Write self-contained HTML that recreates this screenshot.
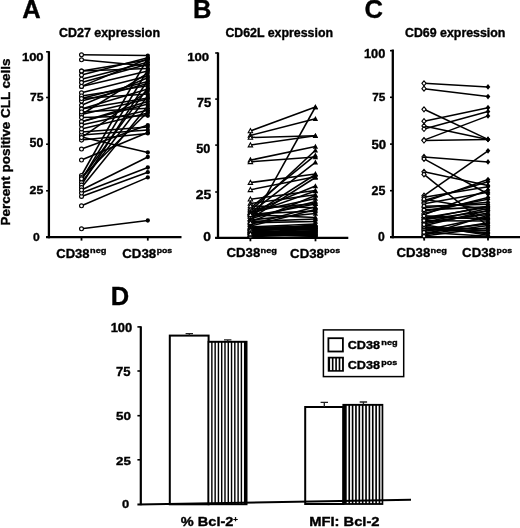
<!DOCTYPE html><html><head><meta charset="utf-8"><style>html,body{margin:0;padding:0;background:#fff;overflow:hidden}svg{display:block;will-change:transform}text{stroke:#000;stroke-width:0.35px}</style></head><body>
<svg width="520" height="528" viewBox="0 0 520 528" font-family='"Liberation Sans", sans-serif' fill="#000" stroke="none">
<rect width="520" height="528" fill="#fff"/>
<text x="22.2" y="17.6" font-size="25.5" font-weight="bold">A</text>
<text x="193.0" y="17.8" font-size="25.5" font-weight="bold">B</text>
<text x="364.4" y="17.6" font-size="25.5" font-weight="bold">C</text>
<text x="110.8" y="305.4" font-size="25.5" font-weight="bold">D</text>
<text x="59.0" y="37.1" font-size="12.0" font-weight="bold" textLength="101" lengthAdjust="spacingAndGlyphs">CD27 expression</text>
<text x="225.4" y="37.1" font-size="12.0" font-weight="bold" textLength="107.6" lengthAdjust="spacingAndGlyphs">CD62L expression</text>
<text x="405.0" y="37.1" font-size="12.0" font-weight="bold" textLength="100.4" lengthAdjust="spacingAndGlyphs">CD69 expression</text>
<text transform="translate(10.2,225.5) rotate(-90)" font-size="13.3" font-weight="bold" textLength="167" lengthAdjust="spacingAndGlyphs">Percent positive CLL cells</text>
<g stroke="#000">
<path d="M48.90 51.20 V238.30" stroke-width="2.3" fill="none"/>
<path d="M46.10 237.20 H181.50" stroke-width="2.3" fill="none"/>
<path d="M46.10 51.80 H48.90" stroke-width="1.6" fill="none"/>
<path d="M46.10 97.50 H48.90" stroke-width="1.6" fill="none"/>
<path d="M46.10 144.20 H48.90" stroke-width="1.6" fill="none"/>
<path d="M46.10 190.80 H48.90" stroke-width="1.6" fill="none"/>
<path d="M46.10 237.20 H48.90" stroke-width="1.6" fill="none"/>
<path d="M81.50 237.20 V240.60" stroke-width="1.8" fill="none"/>
<path d="M147.80 237.20 V240.60" stroke-width="1.8" fill="none"/>
<path d="M218.00 52.40 V239.00" stroke-width="2.3" fill="none"/>
<path d="M215.20 237.90 H348.30" stroke-width="2.3" fill="none"/>
<path d="M215.20 53.00 H218.00" stroke-width="1.6" fill="none"/>
<path d="M215.20 99.10 H218.00" stroke-width="1.6" fill="none"/>
<path d="M215.20 145.10 H218.00" stroke-width="1.6" fill="none"/>
<path d="M215.20 192.00 H218.00" stroke-width="1.6" fill="none"/>
<path d="M215.20 237.90 H218.00" stroke-width="1.6" fill="none"/>
<path d="M250.40 237.90 V241.30" stroke-width="1.8" fill="none"/>
<path d="M315.50 237.90 V241.30" stroke-width="1.8" fill="none"/>
<path d="M392.80 49.50 V238.30" stroke-width="2.3" fill="none"/>
<path d="M390.00 237.20 H520.00" stroke-width="2.3" fill="none"/>
<path d="M390.00 50.70 H392.80" stroke-width="1.6" fill="none"/>
<path d="M390.00 97.30 H392.80" stroke-width="1.6" fill="none"/>
<path d="M390.00 144.10 H392.80" stroke-width="1.6" fill="none"/>
<path d="M390.00 190.70 H392.80" stroke-width="1.6" fill="none"/>
<path d="M390.00 237.20 H392.80" stroke-width="1.6" fill="none"/>
<path d="M424.20 237.20 V240.60" stroke-width="1.8" fill="none"/>
<path d="M488.00 237.20 V240.60" stroke-width="1.8" fill="none"/>
</g>
<text x="21.92" y="60.59" font-size="11.41" font-weight="bold" textLength="21.68" lengthAdjust="spacingAndGlyphs">100</text>
<text x="29.91" y="101.48" font-size="11.57" font-weight="bold" textLength="13.58" lengthAdjust="spacingAndGlyphs">75</text>
<text x="29.63" y="147.38" font-size="12.39" font-weight="bold" textLength="13.80" lengthAdjust="spacingAndGlyphs">50</text>
<text x="29.63" y="194.18" font-size="11.55" font-weight="bold" textLength="13.67" lengthAdjust="spacingAndGlyphs">25</text>
<text x="33.01" y="241.18" font-size="11.83" font-weight="bold" textLength="6.75" lengthAdjust="spacingAndGlyphs">0</text>
<text x="187.21" y="60.59" font-size="11.41" font-weight="bold" textLength="22.00" lengthAdjust="spacingAndGlyphs">100</text>
<text x="196.68" y="107.28" font-size="12.43" font-weight="bold" textLength="14.55" lengthAdjust="spacingAndGlyphs">75</text>
<text x="196.22" y="153.28" font-size="12.25" font-weight="bold" textLength="14.12" lengthAdjust="spacingAndGlyphs">50</text>
<text x="195.68" y="199.07" font-size="12.54" font-weight="bold" textLength="15.57" lengthAdjust="spacingAndGlyphs">25</text>
<text x="203.25" y="241.48" font-size="12.25" font-weight="bold" textLength="7.69" lengthAdjust="spacingAndGlyphs">0</text>
<text x="363.93" y="57.78" font-size="12.25" font-weight="bold" textLength="21.36" lengthAdjust="spacingAndGlyphs">100</text>
<text x="372.23" y="101.48" font-size="11.57" font-weight="bold" textLength="13.16" lengthAdjust="spacingAndGlyphs">75</text>
<text x="371.40" y="148.98" font-size="12.25" font-weight="bold" textLength="14.65" lengthAdjust="spacingAndGlyphs">50</text>
<text x="371.63" y="195.48" font-size="12.11" font-weight="bold" textLength="13.88" lengthAdjust="spacingAndGlyphs">25</text>
<text x="378.01" y="241.18" font-size="12.39" font-weight="bold" textLength="6.75" lengthAdjust="spacingAndGlyphs">0</text>
<text x="110.67" y="331.68" font-size="12.11" font-weight="bold" textLength="21.63" lengthAdjust="spacingAndGlyphs">100</text>
<text x="116.08" y="376.07" font-size="13.00" font-weight="bold" textLength="14.55" lengthAdjust="spacingAndGlyphs">75</text>
<text x="116.10" y="420.38" font-size="11.69" font-weight="bold" textLength="14.97" lengthAdjust="spacingAndGlyphs">50</text>
<text x="116.10" y="464.88" font-size="11.69" font-weight="bold" textLength="14.83" lengthAdjust="spacingAndGlyphs">25</text>
<text x="122.08" y="508.38" font-size="11.69" font-weight="bold" textLength="7.22" lengthAdjust="spacingAndGlyphs">0</text>
<g stroke="#000" fill="none">
<line x1="81.50" y1="54.80" x2="147.80" y2="55.60" stroke-width="1.55"/>
<line x1="81.50" y1="59.80" x2="147.80" y2="66.00" stroke-width="1.55"/>
<line x1="81.50" y1="228.80" x2="147.80" y2="220.50" stroke-width="1.55"/>
<line x1="81.50" y1="205.80" x2="147.80" y2="177.40" stroke-width="1.55"/>
<line x1="81.50" y1="196.40" x2="147.80" y2="172.20" stroke-width="1.55"/>
<line x1="81.50" y1="193.00" x2="147.80" y2="167.50" stroke-width="1.55"/>
<line x1="81.50" y1="137.00" x2="147.80" y2="152.50" stroke-width="1.55"/>
<line x1="81.50" y1="149.00" x2="147.80" y2="125.10" stroke-width="1.55"/>
<line x1="81.50" y1="160.00" x2="147.80" y2="132.50" stroke-width="1.55"/>
<line x1="81.50" y1="135.10" x2="147.80" y2="130.00" stroke-width="1.55"/>
<line x1="81.50" y1="140.10" x2="147.80" y2="133.40" stroke-width="1.55"/>
<line x1="81.50" y1="132.00" x2="147.80" y2="127.00" stroke-width="1.55"/>
<line x1="81.50" y1="175.50" x2="147.80" y2="58.00" stroke-width="1.55"/>
<line x1="81.50" y1="177.50" x2="147.80" y2="112.00" stroke-width="1.55"/>
<line x1="81.50" y1="180.00" x2="147.80" y2="70.00" stroke-width="1.55"/>
<line x1="81.50" y1="182.50" x2="147.80" y2="96.00" stroke-width="1.55"/>
<line x1="81.50" y1="185.00" x2="147.80" y2="80.00" stroke-width="1.55"/>
<line x1="81.50" y1="187.50" x2="147.80" y2="106.00" stroke-width="1.55"/>
<line x1="81.50" y1="190.00" x2="147.80" y2="157.00" stroke-width="1.55"/>
<line x1="81.50" y1="178.80" x2="147.80" y2="88.00" stroke-width="1.55"/>
<line x1="81.50" y1="71.10" x2="147.80" y2="60.00" stroke-width="1.55"/>
<line x1="81.50" y1="71.10" x2="147.80" y2="68.50" stroke-width="1.55"/>
<line x1="81.50" y1="75.10" x2="147.80" y2="57.80" stroke-width="1.55"/>
<line x1="81.50" y1="79.20" x2="147.80" y2="62.20" stroke-width="1.55"/>
<line x1="81.50" y1="82.60" x2="147.80" y2="64.30" stroke-width="1.55"/>
<line x1="81.50" y1="86.40" x2="147.80" y2="71.00" stroke-width="1.55"/>
<line x1="81.50" y1="86.40" x2="147.80" y2="58.80" stroke-width="1.55"/>
<line x1="81.50" y1="114.50" x2="147.80" y2="73.06" stroke-width="1.55"/>
<line x1="81.50" y1="92.80" x2="147.80" y2="75.93" stroke-width="1.55"/>
<line x1="81.50" y1="105.30" x2="147.80" y2="77.84" stroke-width="1.55"/>
<line x1="81.50" y1="98.50" x2="147.80" y2="81.53" stroke-width="1.55"/>
<line x1="81.50" y1="101.10" x2="147.80" y2="83.48" stroke-width="1.55"/>
<line x1="81.50" y1="95.90" x2="147.80" y2="85.74" stroke-width="1.55"/>
<line x1="81.50" y1="109.00" x2="147.80" y2="89.08" stroke-width="1.55"/>
<line x1="81.50" y1="137.60" x2="147.80" y2="91.01" stroke-width="1.55"/>
<line x1="81.50" y1="98.50" x2="147.80" y2="94.00" stroke-width="1.55"/>
<line x1="81.50" y1="109.00" x2="147.80" y2="97.93" stroke-width="1.55"/>
<line x1="81.50" y1="114.50" x2="147.80" y2="99.02" stroke-width="1.55"/>
<line x1="81.50" y1="121.70" x2="147.80" y2="101.56" stroke-width="1.55"/>
<line x1="81.50" y1="121.70" x2="147.80" y2="103.90" stroke-width="1.55"/>
<line x1="81.50" y1="111.90" x2="147.80" y2="108.19" stroke-width="1.55"/>
<line x1="81.50" y1="125.10" x2="147.80" y2="110.15" stroke-width="1.55"/>
<line x1="81.50" y1="128.90" x2="147.80" y2="113.11" stroke-width="1.55"/>
<line x1="81.50" y1="117.60" x2="147.80" y2="115.74" stroke-width="1.55"/>
</g>
<circle cx="147.80" cy="55.60" r="2.15" fill="#000"/>
<circle cx="147.80" cy="66.00" r="2.15" fill="#000"/>
<circle cx="147.80" cy="220.50" r="2.15" fill="#000"/>
<circle cx="147.80" cy="177.40" r="2.15" fill="#000"/>
<circle cx="147.80" cy="172.20" r="2.15" fill="#000"/>
<circle cx="147.80" cy="167.50" r="2.15" fill="#000"/>
<circle cx="147.80" cy="152.50" r="2.15" fill="#000"/>
<circle cx="147.80" cy="125.10" r="2.15" fill="#000"/>
<circle cx="147.80" cy="132.50" r="2.15" fill="#000"/>
<circle cx="147.80" cy="130.00" r="2.15" fill="#000"/>
<circle cx="147.80" cy="133.40" r="2.15" fill="#000"/>
<circle cx="147.80" cy="127.00" r="2.15" fill="#000"/>
<circle cx="147.80" cy="58.00" r="2.15" fill="#000"/>
<circle cx="147.80" cy="112.00" r="2.15" fill="#000"/>
<circle cx="147.80" cy="70.00" r="2.15" fill="#000"/>
<circle cx="147.80" cy="96.00" r="2.15" fill="#000"/>
<circle cx="147.80" cy="80.00" r="2.15" fill="#000"/>
<circle cx="147.80" cy="106.00" r="2.15" fill="#000"/>
<circle cx="147.80" cy="157.00" r="2.15" fill="#000"/>
<circle cx="147.80" cy="88.00" r="2.15" fill="#000"/>
<circle cx="147.80" cy="60.00" r="2.15" fill="#000"/>
<circle cx="147.80" cy="68.50" r="2.15" fill="#000"/>
<circle cx="147.80" cy="57.80" r="2.15" fill="#000"/>
<circle cx="147.80" cy="62.20" r="2.15" fill="#000"/>
<circle cx="147.80" cy="64.30" r="2.15" fill="#000"/>
<circle cx="147.80" cy="71.00" r="2.15" fill="#000"/>
<circle cx="147.80" cy="58.80" r="2.15" fill="#000"/>
<circle cx="147.80" cy="73.06" r="2.15" fill="#000"/>
<circle cx="147.80" cy="75.93" r="2.15" fill="#000"/>
<circle cx="147.80" cy="77.84" r="2.15" fill="#000"/>
<circle cx="147.80" cy="81.53" r="2.15" fill="#000"/>
<circle cx="147.80" cy="83.48" r="2.15" fill="#000"/>
<circle cx="147.80" cy="85.74" r="2.15" fill="#000"/>
<circle cx="147.80" cy="89.08" r="2.15" fill="#000"/>
<circle cx="147.80" cy="91.01" r="2.15" fill="#000"/>
<circle cx="147.80" cy="94.00" r="2.15" fill="#000"/>
<circle cx="147.80" cy="97.93" r="2.15" fill="#000"/>
<circle cx="147.80" cy="99.02" r="2.15" fill="#000"/>
<circle cx="147.80" cy="101.56" r="2.15" fill="#000"/>
<circle cx="147.80" cy="103.90" r="2.15" fill="#000"/>
<circle cx="147.80" cy="108.19" r="2.15" fill="#000"/>
<circle cx="147.80" cy="110.15" r="2.15" fill="#000"/>
<circle cx="147.80" cy="113.11" r="2.15" fill="#000"/>
<circle cx="147.80" cy="115.74" r="2.15" fill="#000"/>
<circle cx="81.50" cy="54.80" r="1.95" fill="#fff" stroke="#000" stroke-width="1.15"/>
<circle cx="81.50" cy="59.80" r="1.95" fill="#fff" stroke="#000" stroke-width="1.15"/>
<circle cx="81.50" cy="228.80" r="1.95" fill="#fff" stroke="#000" stroke-width="1.15"/>
<circle cx="81.50" cy="205.80" r="1.95" fill="#fff" stroke="#000" stroke-width="1.15"/>
<circle cx="81.50" cy="196.40" r="1.95" fill="#fff" stroke="#000" stroke-width="1.15"/>
<circle cx="81.50" cy="193.00" r="1.95" fill="#fff" stroke="#000" stroke-width="1.15"/>
<circle cx="81.50" cy="137.00" r="1.95" fill="#fff" stroke="#000" stroke-width="1.15"/>
<circle cx="81.50" cy="149.00" r="1.95" fill="#fff" stroke="#000" stroke-width="1.15"/>
<circle cx="81.50" cy="160.00" r="1.95" fill="#fff" stroke="#000" stroke-width="1.15"/>
<circle cx="81.50" cy="135.10" r="1.95" fill="#fff" stroke="#000" stroke-width="1.15"/>
<circle cx="81.50" cy="140.10" r="1.95" fill="#fff" stroke="#000" stroke-width="1.15"/>
<circle cx="81.50" cy="132.00" r="1.95" fill="#fff" stroke="#000" stroke-width="1.15"/>
<circle cx="81.50" cy="175.50" r="1.95" fill="#fff" stroke="#000" stroke-width="1.15"/>
<circle cx="81.50" cy="177.50" r="1.95" fill="#fff" stroke="#000" stroke-width="1.15"/>
<circle cx="81.50" cy="180.00" r="1.95" fill="#fff" stroke="#000" stroke-width="1.15"/>
<circle cx="81.50" cy="182.50" r="1.95" fill="#fff" stroke="#000" stroke-width="1.15"/>
<circle cx="81.50" cy="185.00" r="1.95" fill="#fff" stroke="#000" stroke-width="1.15"/>
<circle cx="81.50" cy="187.50" r="1.95" fill="#fff" stroke="#000" stroke-width="1.15"/>
<circle cx="81.50" cy="190.00" r="1.95" fill="#fff" stroke="#000" stroke-width="1.15"/>
<circle cx="81.50" cy="178.80" r="1.95" fill="#fff" stroke="#000" stroke-width="1.15"/>
<circle cx="81.50" cy="71.10" r="1.95" fill="#fff" stroke="#000" stroke-width="1.15"/>
<circle cx="81.50" cy="71.10" r="1.95" fill="#fff" stroke="#000" stroke-width="1.15"/>
<circle cx="81.50" cy="75.10" r="1.95" fill="#fff" stroke="#000" stroke-width="1.15"/>
<circle cx="81.50" cy="79.20" r="1.95" fill="#fff" stroke="#000" stroke-width="1.15"/>
<circle cx="81.50" cy="82.60" r="1.95" fill="#fff" stroke="#000" stroke-width="1.15"/>
<circle cx="81.50" cy="86.40" r="1.95" fill="#fff" stroke="#000" stroke-width="1.15"/>
<circle cx="81.50" cy="86.40" r="1.95" fill="#fff" stroke="#000" stroke-width="1.15"/>
<circle cx="81.50" cy="114.50" r="1.95" fill="#fff" stroke="#000" stroke-width="1.15"/>
<circle cx="81.50" cy="92.80" r="1.95" fill="#fff" stroke="#000" stroke-width="1.15"/>
<circle cx="81.50" cy="105.30" r="1.95" fill="#fff" stroke="#000" stroke-width="1.15"/>
<circle cx="81.50" cy="98.50" r="1.95" fill="#fff" stroke="#000" stroke-width="1.15"/>
<circle cx="81.50" cy="101.10" r="1.95" fill="#fff" stroke="#000" stroke-width="1.15"/>
<circle cx="81.50" cy="95.90" r="1.95" fill="#fff" stroke="#000" stroke-width="1.15"/>
<circle cx="81.50" cy="109.00" r="1.95" fill="#fff" stroke="#000" stroke-width="1.15"/>
<circle cx="81.50" cy="137.60" r="1.95" fill="#fff" stroke="#000" stroke-width="1.15"/>
<circle cx="81.50" cy="98.50" r="1.95" fill="#fff" stroke="#000" stroke-width="1.15"/>
<circle cx="81.50" cy="109.00" r="1.95" fill="#fff" stroke="#000" stroke-width="1.15"/>
<circle cx="81.50" cy="114.50" r="1.95" fill="#fff" stroke="#000" stroke-width="1.15"/>
<circle cx="81.50" cy="121.70" r="1.95" fill="#fff" stroke="#000" stroke-width="1.15"/>
<circle cx="81.50" cy="121.70" r="1.95" fill="#fff" stroke="#000" stroke-width="1.15"/>
<circle cx="81.50" cy="111.90" r="1.95" fill="#fff" stroke="#000" stroke-width="1.15"/>
<circle cx="81.50" cy="125.10" r="1.95" fill="#fff" stroke="#000" stroke-width="1.15"/>
<circle cx="81.50" cy="128.90" r="1.95" fill="#fff" stroke="#000" stroke-width="1.15"/>
<circle cx="81.50" cy="117.60" r="1.95" fill="#fff" stroke="#000" stroke-width="1.15"/>
<g stroke="#000" fill="none">
<line x1="250.40" y1="130.90" x2="315.40" y2="107.00" stroke-width="1.55"/>
<line x1="250.40" y1="135.50" x2="315.40" y2="118.70" stroke-width="1.55"/>
<line x1="250.40" y1="137.50" x2="315.40" y2="135.70" stroke-width="1.55"/>
<line x1="250.40" y1="145.10" x2="315.40" y2="135.70" stroke-width="1.55"/>
<line x1="250.40" y1="160.10" x2="315.40" y2="146.50" stroke-width="1.55"/>
<line x1="250.40" y1="161.80" x2="315.40" y2="157.00" stroke-width="1.55"/>
<line x1="250.40" y1="224.00" x2="315.40" y2="107.00" stroke-width="1.55"/>
<line x1="250.40" y1="211.00" x2="315.40" y2="150.20" stroke-width="1.55"/>
<line x1="250.40" y1="213.00" x2="315.40" y2="162.40" stroke-width="1.55"/>
<line x1="250.40" y1="208.00" x2="315.40" y2="155.20" stroke-width="1.55"/>
<line x1="250.40" y1="182.60" x2="315.40" y2="173.90" stroke-width="1.55"/>
<line x1="250.40" y1="189.80" x2="315.40" y2="176.80" stroke-width="1.55"/>
<line x1="250.40" y1="199.20" x2="315.40" y2="190.50" stroke-width="1.55"/>
<line x1="250.40" y1="203.50" x2="315.40" y2="194.80" stroke-width="1.55"/>
<line x1="250.40" y1="209.30" x2="315.40" y2="203.50" stroke-width="1.55"/>
<line x1="250.40" y1="206.00" x2="315.40" y2="207.80" stroke-width="1.55"/>
<line x1="250.40" y1="216.00" x2="315.40" y2="174.50" stroke-width="1.55"/>
<line x1="250.40" y1="219.00" x2="315.40" y2="177.50" stroke-width="1.55"/>
<line x1="250.40" y1="214.00" x2="315.40" y2="191.00" stroke-width="1.55"/>
<line x1="250.40" y1="222.00" x2="315.40" y2="195.50" stroke-width="1.55"/>
<line x1="250.40" y1="212.50" x2="315.40" y2="186.00" stroke-width="1.55"/>
<line x1="250.40" y1="212.43" x2="315.40" y2="198.60" stroke-width="1.55"/>
<line x1="250.40" y1="218.54" x2="315.40" y2="201.62" stroke-width="1.55"/>
<line x1="250.40" y1="216.28" x2="315.40" y2="203.91" stroke-width="1.55"/>
<line x1="250.40" y1="224.54" x2="315.40" y2="206.83" stroke-width="1.55"/>
<line x1="250.40" y1="226.10" x2="315.40" y2="209.41" stroke-width="1.55"/>
<line x1="250.40" y1="213.97" x2="315.40" y2="211.11" stroke-width="1.55"/>
<line x1="250.40" y1="220.00" x2="315.40" y2="213.59" stroke-width="1.55"/>
<line x1="250.40" y1="214.70" x2="315.40" y2="217.41" stroke-width="1.55"/>
<line x1="250.40" y1="221.49" x2="315.40" y2="219.08" stroke-width="1.55"/>
<line x1="250.40" y1="222.71" x2="315.40" y2="221.59" stroke-width="1.55"/>
<line x1="250.40" y1="226.93" x2="315.40" y2="224.04" stroke-width="1.55"/>
<line x1="250.40" y1="231.00" x2="315.40" y2="224.68" stroke-width="1.55"/>
<line x1="250.40" y1="231.53" x2="315.40" y2="225.30" stroke-width="1.55"/>
<line x1="250.40" y1="228.26" x2="315.40" y2="225.94" stroke-width="1.55"/>
<line x1="250.40" y1="227.88" x2="315.40" y2="226.47" stroke-width="1.55"/>
<line x1="250.40" y1="227.34" x2="315.40" y2="227.13" stroke-width="1.55"/>
<line x1="250.40" y1="230.69" x2="315.40" y2="227.40" stroke-width="1.55"/>
<line x1="250.40" y1="229.83" x2="315.40" y2="228.15" stroke-width="1.55"/>
<line x1="250.40" y1="229.24" x2="315.40" y2="228.92" stroke-width="1.55"/>
<line x1="250.40" y1="231.92" x2="315.40" y2="229.41" stroke-width="1.55"/>
<line x1="250.40" y1="228.69" x2="315.40" y2="230.10" stroke-width="1.55"/>
<line x1="250.40" y1="236.00" x2="315.40" y2="230.41" stroke-width="1.55"/>
<line x1="250.40" y1="232.34" x2="315.40" y2="231.13" stroke-width="1.55"/>
<line x1="250.40" y1="232.77" x2="315.40" y2="231.65" stroke-width="1.55"/>
<line x1="250.40" y1="234.77" x2="315.40" y2="232.35" stroke-width="1.55"/>
<line x1="250.40" y1="230.25" x2="315.40" y2="232.95" stroke-width="1.55"/>
<line x1="250.40" y1="233.26" x2="315.40" y2="233.35" stroke-width="1.55"/>
<line x1="250.40" y1="235.51" x2="315.40" y2="234.02" stroke-width="1.55"/>
<line x1="250.40" y1="236.53" x2="315.40" y2="234.64" stroke-width="1.55"/>
<line x1="250.40" y1="235.22" x2="315.40" y2="235.46" stroke-width="1.55"/>
<line x1="250.40" y1="234.33" x2="315.40" y2="236.00" stroke-width="1.55"/>
<line x1="250.40" y1="233.90" x2="315.40" y2="236.38" stroke-width="1.55"/>
</g>
<path d="M315.40 104.20 L318.10 109.20 L312.70 109.20Z" fill="#000"/>
<path d="M315.40 115.90 L318.10 120.90 L312.70 120.90Z" fill="#000"/>
<path d="M315.40 132.90 L318.10 137.90 L312.70 137.90Z" fill="#000"/>
<path d="M315.40 132.90 L318.10 137.90 L312.70 137.90Z" fill="#000"/>
<path d="M315.40 143.70 L318.10 148.70 L312.70 148.70Z" fill="#000"/>
<path d="M315.40 154.20 L318.10 159.20 L312.70 159.20Z" fill="#000"/>
<path d="M315.40 104.20 L318.10 109.20 L312.70 109.20Z" fill="#000"/>
<path d="M315.40 147.40 L318.10 152.40 L312.70 152.40Z" fill="#000"/>
<path d="M315.40 159.60 L318.10 164.60 L312.70 164.60Z" fill="#000"/>
<path d="M315.40 152.40 L318.10 157.40 L312.70 157.40Z" fill="#000"/>
<path d="M315.40 171.10 L318.10 176.10 L312.70 176.10Z" fill="#000"/>
<path d="M315.40 174.00 L318.10 179.00 L312.70 179.00Z" fill="#000"/>
<path d="M315.40 187.70 L318.10 192.70 L312.70 192.70Z" fill="#000"/>
<path d="M315.40 192.00 L318.10 197.00 L312.70 197.00Z" fill="#000"/>
<path d="M315.40 200.70 L318.10 205.70 L312.70 205.70Z" fill="#000"/>
<path d="M315.40 205.00 L318.10 210.00 L312.70 210.00Z" fill="#000"/>
<path d="M315.40 171.70 L318.10 176.70 L312.70 176.70Z" fill="#000"/>
<path d="M315.40 174.70 L318.10 179.70 L312.70 179.70Z" fill="#000"/>
<path d="M315.40 188.20 L318.10 193.20 L312.70 193.20Z" fill="#000"/>
<path d="M315.40 192.70 L318.10 197.70 L312.70 197.70Z" fill="#000"/>
<path d="M315.40 183.20 L318.10 188.20 L312.70 188.20Z" fill="#000"/>
<path d="M315.40 195.80 L318.10 200.80 L312.70 200.80Z" fill="#000"/>
<path d="M315.40 198.82 L318.10 203.82 L312.70 203.82Z" fill="#000"/>
<path d="M315.40 201.11 L318.10 206.11 L312.70 206.11Z" fill="#000"/>
<path d="M315.40 204.03 L318.10 209.03 L312.70 209.03Z" fill="#000"/>
<path d="M315.40 206.61 L318.10 211.61 L312.70 211.61Z" fill="#000"/>
<path d="M315.40 208.31 L318.10 213.31 L312.70 213.31Z" fill="#000"/>
<path d="M315.40 210.79 L318.10 215.79 L312.70 215.79Z" fill="#000"/>
<path d="M315.40 214.61 L318.10 219.61 L312.70 219.61Z" fill="#000"/>
<path d="M315.40 216.28 L318.10 221.28 L312.70 221.28Z" fill="#000"/>
<path d="M315.40 218.79 L318.10 223.79 L312.70 223.79Z" fill="#000"/>
<path d="M315.40 221.24 L318.10 226.24 L312.70 226.24Z" fill="#000"/>
<path d="M315.40 221.88 L318.10 226.88 L312.70 226.88Z" fill="#000"/>
<path d="M315.40 222.50 L318.10 227.50 L312.70 227.50Z" fill="#000"/>
<path d="M315.40 223.14 L318.10 228.14 L312.70 228.14Z" fill="#000"/>
<path d="M315.40 223.67 L318.10 228.67 L312.70 228.67Z" fill="#000"/>
<path d="M315.40 224.33 L318.10 229.33 L312.70 229.33Z" fill="#000"/>
<path d="M315.40 224.60 L318.10 229.60 L312.70 229.60Z" fill="#000"/>
<path d="M315.40 225.35 L318.10 230.35 L312.70 230.35Z" fill="#000"/>
<path d="M315.40 226.12 L318.10 231.12 L312.70 231.12Z" fill="#000"/>
<path d="M315.40 226.61 L318.10 231.61 L312.70 231.61Z" fill="#000"/>
<path d="M315.40 227.30 L318.10 232.30 L312.70 232.30Z" fill="#000"/>
<path d="M315.40 227.61 L318.10 232.61 L312.70 232.61Z" fill="#000"/>
<path d="M315.40 228.33 L318.10 233.33 L312.70 233.33Z" fill="#000"/>
<path d="M315.40 228.85 L318.10 233.85 L312.70 233.85Z" fill="#000"/>
<path d="M315.40 229.55 L318.10 234.55 L312.70 234.55Z" fill="#000"/>
<path d="M315.40 230.15 L318.10 235.15 L312.70 235.15Z" fill="#000"/>
<path d="M315.40 230.55 L318.10 235.55 L312.70 235.55Z" fill="#000"/>
<path d="M315.40 231.22 L318.10 236.22 L312.70 236.22Z" fill="#000"/>
<path d="M315.40 231.84 L318.10 236.84 L312.70 236.84Z" fill="#000"/>
<path d="M315.40 232.66 L318.10 237.66 L312.70 237.66Z" fill="#000"/>
<path d="M315.40 233.20 L318.10 238.20 L312.70 238.20Z" fill="#000"/>
<path d="M315.40 233.58 L318.10 238.58 L312.70 238.58Z" fill="#000"/>
<path d="M250.40 128.60 L252.60 132.70 L248.20 132.70Z" fill="#fff" stroke="#000" stroke-width="1.1"/>
<path d="M250.40 133.20 L252.60 137.30 L248.20 137.30Z" fill="#fff" stroke="#000" stroke-width="1.1"/>
<path d="M250.40 135.20 L252.60 139.30 L248.20 139.30Z" fill="#fff" stroke="#000" stroke-width="1.1"/>
<path d="M250.40 142.80 L252.60 146.90 L248.20 146.90Z" fill="#fff" stroke="#000" stroke-width="1.1"/>
<path d="M250.40 157.80 L252.60 161.90 L248.20 161.90Z" fill="#fff" stroke="#000" stroke-width="1.1"/>
<path d="M250.40 159.50 L252.60 163.60 L248.20 163.60Z" fill="#fff" stroke="#000" stroke-width="1.1"/>
<path d="M250.40 221.70 L252.60 225.80 L248.20 225.80Z" fill="#fff" stroke="#000" stroke-width="1.1"/>
<path d="M250.40 208.70 L252.60 212.80 L248.20 212.80Z" fill="#fff" stroke="#000" stroke-width="1.1"/>
<path d="M250.40 210.70 L252.60 214.80 L248.20 214.80Z" fill="#fff" stroke="#000" stroke-width="1.1"/>
<path d="M250.40 205.70 L252.60 209.80 L248.20 209.80Z" fill="#fff" stroke="#000" stroke-width="1.1"/>
<path d="M250.40 180.30 L252.60 184.40 L248.20 184.40Z" fill="#fff" stroke="#000" stroke-width="1.1"/>
<path d="M250.40 187.50 L252.60 191.60 L248.20 191.60Z" fill="#fff" stroke="#000" stroke-width="1.1"/>
<path d="M250.40 196.90 L252.60 201.00 L248.20 201.00Z" fill="#fff" stroke="#000" stroke-width="1.1"/>
<path d="M250.40 201.20 L252.60 205.30 L248.20 205.30Z" fill="#fff" stroke="#000" stroke-width="1.1"/>
<path d="M250.40 207.00 L252.60 211.10 L248.20 211.10Z" fill="#fff" stroke="#000" stroke-width="1.1"/>
<path d="M250.40 203.70 L252.60 207.80 L248.20 207.80Z" fill="#fff" stroke="#000" stroke-width="1.1"/>
<path d="M250.40 213.70 L252.60 217.80 L248.20 217.80Z" fill="#fff" stroke="#000" stroke-width="1.1"/>
<path d="M250.40 216.70 L252.60 220.80 L248.20 220.80Z" fill="#fff" stroke="#000" stroke-width="1.1"/>
<path d="M250.40 211.70 L252.60 215.80 L248.20 215.80Z" fill="#fff" stroke="#000" stroke-width="1.1"/>
<path d="M250.40 219.70 L252.60 223.80 L248.20 223.80Z" fill="#fff" stroke="#000" stroke-width="1.1"/>
<path d="M250.40 210.20 L252.60 214.30 L248.20 214.30Z" fill="#fff" stroke="#000" stroke-width="1.1"/>
<path d="M250.40 210.13 L252.60 214.23 L248.20 214.23Z" fill="#fff" stroke="#000" stroke-width="1.1"/>
<path d="M250.40 216.24 L252.60 220.34 L248.20 220.34Z" fill="#fff" stroke="#000" stroke-width="1.1"/>
<path d="M250.40 213.98 L252.60 218.08 L248.20 218.08Z" fill="#fff" stroke="#000" stroke-width="1.1"/>
<path d="M250.40 222.24 L252.60 226.34 L248.20 226.34Z" fill="#fff" stroke="#000" stroke-width="1.1"/>
<path d="M250.40 223.80 L252.60 227.90 L248.20 227.90Z" fill="#fff" stroke="#000" stroke-width="1.1"/>
<path d="M250.40 211.67 L252.60 215.77 L248.20 215.77Z" fill="#fff" stroke="#000" stroke-width="1.1"/>
<path d="M250.40 217.70 L252.60 221.80 L248.20 221.80Z" fill="#fff" stroke="#000" stroke-width="1.1"/>
<path d="M250.40 212.40 L252.60 216.50 L248.20 216.50Z" fill="#fff" stroke="#000" stroke-width="1.1"/>
<path d="M250.40 219.19 L252.60 223.29 L248.20 223.29Z" fill="#fff" stroke="#000" stroke-width="1.1"/>
<path d="M250.40 220.41 L252.60 224.51 L248.20 224.51Z" fill="#fff" stroke="#000" stroke-width="1.1"/>
<path d="M250.40 224.63 L252.60 228.73 L248.20 228.73Z" fill="#fff" stroke="#000" stroke-width="1.1"/>
<path d="M250.40 228.70 L252.60 232.80 L248.20 232.80Z" fill="#fff" stroke="#000" stroke-width="1.1"/>
<path d="M250.40 229.23 L252.60 233.33 L248.20 233.33Z" fill="#fff" stroke="#000" stroke-width="1.1"/>
<path d="M250.40 225.96 L252.60 230.06 L248.20 230.06Z" fill="#fff" stroke="#000" stroke-width="1.1"/>
<path d="M250.40 225.58 L252.60 229.68 L248.20 229.68Z" fill="#fff" stroke="#000" stroke-width="1.1"/>
<path d="M250.40 225.04 L252.60 229.14 L248.20 229.14Z" fill="#fff" stroke="#000" stroke-width="1.1"/>
<path d="M250.40 228.39 L252.60 232.49 L248.20 232.49Z" fill="#fff" stroke="#000" stroke-width="1.1"/>
<path d="M250.40 227.53 L252.60 231.63 L248.20 231.63Z" fill="#fff" stroke="#000" stroke-width="1.1"/>
<path d="M250.40 226.94 L252.60 231.04 L248.20 231.04Z" fill="#fff" stroke="#000" stroke-width="1.1"/>
<path d="M250.40 229.62 L252.60 233.72 L248.20 233.72Z" fill="#fff" stroke="#000" stroke-width="1.1"/>
<path d="M250.40 226.39 L252.60 230.49 L248.20 230.49Z" fill="#fff" stroke="#000" stroke-width="1.1"/>
<path d="M250.40 233.70 L252.60 237.80 L248.20 237.80Z" fill="#fff" stroke="#000" stroke-width="1.1"/>
<path d="M250.40 230.04 L252.60 234.14 L248.20 234.14Z" fill="#fff" stroke="#000" stroke-width="1.1"/>
<path d="M250.40 230.47 L252.60 234.57 L248.20 234.57Z" fill="#fff" stroke="#000" stroke-width="1.1"/>
<path d="M250.40 232.47 L252.60 236.57 L248.20 236.57Z" fill="#fff" stroke="#000" stroke-width="1.1"/>
<path d="M250.40 227.95 L252.60 232.05 L248.20 232.05Z" fill="#fff" stroke="#000" stroke-width="1.1"/>
<path d="M250.40 230.96 L252.60 235.06 L248.20 235.06Z" fill="#fff" stroke="#000" stroke-width="1.1"/>
<path d="M250.40 233.21 L252.60 237.31 L248.20 237.31Z" fill="#fff" stroke="#000" stroke-width="1.1"/>
<path d="M250.40 234.23 L252.60 238.33 L248.20 238.33Z" fill="#fff" stroke="#000" stroke-width="1.1"/>
<path d="M250.40 232.92 L252.60 237.02 L248.20 237.02Z" fill="#fff" stroke="#000" stroke-width="1.1"/>
<path d="M250.40 232.03 L252.60 236.13 L248.20 236.13Z" fill="#fff" stroke="#000" stroke-width="1.1"/>
<path d="M250.40 231.60 L252.60 235.70 L248.20 235.70Z" fill="#fff" stroke="#000" stroke-width="1.1"/>
<g stroke="#000" fill="none">
<line x1="424.00" y1="83.30" x2="488.00" y2="86.90" stroke-width="1.55"/>
<line x1="424.00" y1="88.70" x2="488.00" y2="96.60" stroke-width="1.55"/>
<line x1="424.00" y1="109.30" x2="488.00" y2="139.40" stroke-width="1.55"/>
<line x1="424.00" y1="121.20" x2="488.00" y2="107.70" stroke-width="1.55"/>
<line x1="424.00" y1="125.90" x2="488.00" y2="139.40" stroke-width="1.55"/>
<line x1="424.00" y1="129.00" x2="488.00" y2="111.60" stroke-width="1.55"/>
<line x1="424.00" y1="140.10" x2="488.00" y2="115.90" stroke-width="1.55"/>
<line x1="424.00" y1="140.50" x2="488.00" y2="139.40" stroke-width="1.55"/>
<line x1="424.00" y1="156.90" x2="488.00" y2="161.90" stroke-width="1.55"/>
<line x1="424.00" y1="158.90" x2="488.00" y2="194.00" stroke-width="1.55"/>
<line x1="424.00" y1="171.80" x2="488.00" y2="185.50" stroke-width="1.55"/>
<line x1="424.00" y1="174.40" x2="488.00" y2="226.00" stroke-width="1.55"/>
<line x1="424.00" y1="195.70" x2="488.00" y2="150.80" stroke-width="1.55"/>
<line x1="424.00" y1="202.14" x2="488.00" y2="179.53" stroke-width="1.55"/>
<line x1="424.00" y1="200.58" x2="488.00" y2="181.79" stroke-width="1.55"/>
<line x1="424.00" y1="197.32" x2="488.00" y2="186.70" stroke-width="1.55"/>
<line x1="424.00" y1="214.75" x2="488.00" y2="189.92" stroke-width="1.55"/>
<line x1="424.00" y1="203.66" x2="488.00" y2="192.18" stroke-width="1.55"/>
<line x1="424.00" y1="213.49" x2="488.00" y2="197.43" stroke-width="1.55"/>
<line x1="424.00" y1="211.26" x2="488.00" y2="199.23" stroke-width="1.55"/>
<line x1="424.00" y1="207.77" x2="488.00" y2="202.35" stroke-width="1.55"/>
<line x1="424.00" y1="206.18" x2="488.00" y2="204.32" stroke-width="1.55"/>
<line x1="424.00" y1="209.88" x2="488.00" y2="206.87" stroke-width="1.55"/>
<line x1="424.00" y1="199.15" x2="488.00" y2="209.89" stroke-width="1.55"/>
<line x1="424.00" y1="219.02" x2="488.00" y2="205.97" stroke-width="1.55"/>
<line x1="424.00" y1="217.72" x2="488.00" y2="207.27" stroke-width="1.55"/>
<line x1="424.00" y1="222.60" x2="488.00" y2="208.46" stroke-width="1.55"/>
<line x1="424.00" y1="225.64" x2="488.00" y2="210.43" stroke-width="1.55"/>
<line x1="424.00" y1="219.63" x2="488.00" y2="211.10" stroke-width="1.55"/>
<line x1="424.00" y1="223.82" x2="488.00" y2="212.89" stroke-width="1.55"/>
<line x1="424.00" y1="222.09" x2="488.00" y2="214.59" stroke-width="1.55"/>
<line x1="424.00" y1="235.26" x2="488.00" y2="215.29" stroke-width="1.55"/>
<line x1="424.00" y1="230.35" x2="488.00" y2="217.06" stroke-width="1.55"/>
<line x1="424.00" y1="217.23" x2="488.00" y2="218.49" stroke-width="1.55"/>
<line x1="424.00" y1="215.84" x2="488.00" y2="219.39" stroke-width="1.55"/>
<line x1="424.00" y1="220.69" x2="488.00" y2="221.05" stroke-width="1.55"/>
<line x1="424.00" y1="233.35" x2="488.00" y2="222.70" stroke-width="1.55"/>
<line x1="424.00" y1="231.19" x2="488.00" y2="223.86" stroke-width="1.55"/>
<line x1="424.00" y1="234.60" x2="488.00" y2="225.47" stroke-width="1.55"/>
<line x1="424.00" y1="236.08" x2="488.00" y2="227.82" stroke-width="1.55"/>
<line x1="424.00" y1="227.42" x2="488.00" y2="229.09" stroke-width="1.55"/>
<line x1="424.00" y1="228.76" x2="488.00" y2="230.80" stroke-width="1.55"/>
<line x1="424.00" y1="229.30" x2="488.00" y2="232.52" stroke-width="1.55"/>
<line x1="424.00" y1="226.63" x2="488.00" y2="233.62" stroke-width="1.55"/>
<line x1="424.00" y1="224.68" x2="488.00" y2="235.15" stroke-width="1.55"/>
<line x1="424.00" y1="232.30" x2="488.00" y2="236.20" stroke-width="1.55"/>
</g>
<path d="M488.00 84.00 L490.30 86.90 L488.00 89.80 L485.70 86.90Z" fill="#000"/>
<path d="M488.00 93.70 L490.30 96.60 L488.00 99.50 L485.70 96.60Z" fill="#000"/>
<path d="M488.00 136.50 L490.30 139.40 L488.00 142.30 L485.70 139.40Z" fill="#000"/>
<path d="M488.00 104.80 L490.30 107.70 L488.00 110.60 L485.70 107.70Z" fill="#000"/>
<path d="M488.00 136.50 L490.30 139.40 L488.00 142.30 L485.70 139.40Z" fill="#000"/>
<path d="M488.00 108.70 L490.30 111.60 L488.00 114.50 L485.70 111.60Z" fill="#000"/>
<path d="M488.00 113.00 L490.30 115.90 L488.00 118.80 L485.70 115.90Z" fill="#000"/>
<path d="M488.00 136.50 L490.30 139.40 L488.00 142.30 L485.70 139.40Z" fill="#000"/>
<path d="M488.00 159.00 L490.30 161.90 L488.00 164.80 L485.70 161.90Z" fill="#000"/>
<path d="M488.00 191.10 L490.30 194.00 L488.00 196.90 L485.70 194.00Z" fill="#000"/>
<path d="M488.00 182.60 L490.30 185.50 L488.00 188.40 L485.70 185.50Z" fill="#000"/>
<path d="M488.00 223.10 L490.30 226.00 L488.00 228.90 L485.70 226.00Z" fill="#000"/>
<path d="M488.00 147.90 L490.30 150.80 L488.00 153.70 L485.70 150.80Z" fill="#000"/>
<path d="M488.00 176.63 L490.30 179.53 L488.00 182.43 L485.70 179.53Z" fill="#000"/>
<path d="M488.00 178.89 L490.30 181.79 L488.00 184.69 L485.70 181.79Z" fill="#000"/>
<path d="M488.00 183.80 L490.30 186.70 L488.00 189.60 L485.70 186.70Z" fill="#000"/>
<path d="M488.00 187.02 L490.30 189.92 L488.00 192.82 L485.70 189.92Z" fill="#000"/>
<path d="M488.00 189.28 L490.30 192.18 L488.00 195.08 L485.70 192.18Z" fill="#000"/>
<path d="M488.00 194.53 L490.30 197.43 L488.00 200.33 L485.70 197.43Z" fill="#000"/>
<path d="M488.00 196.33 L490.30 199.23 L488.00 202.13 L485.70 199.23Z" fill="#000"/>
<path d="M488.00 199.45 L490.30 202.35 L488.00 205.25 L485.70 202.35Z" fill="#000"/>
<path d="M488.00 201.42 L490.30 204.32 L488.00 207.22 L485.70 204.32Z" fill="#000"/>
<path d="M488.00 203.97 L490.30 206.87 L488.00 209.77 L485.70 206.87Z" fill="#000"/>
<path d="M488.00 206.99 L490.30 209.89 L488.00 212.79 L485.70 209.89Z" fill="#000"/>
<path d="M488.00 203.07 L490.30 205.97 L488.00 208.87 L485.70 205.97Z" fill="#000"/>
<path d="M488.00 204.37 L490.30 207.27 L488.00 210.17 L485.70 207.27Z" fill="#000"/>
<path d="M488.00 205.56 L490.30 208.46 L488.00 211.36 L485.70 208.46Z" fill="#000"/>
<path d="M488.00 207.53 L490.30 210.43 L488.00 213.33 L485.70 210.43Z" fill="#000"/>
<path d="M488.00 208.20 L490.30 211.10 L488.00 214.00 L485.70 211.10Z" fill="#000"/>
<path d="M488.00 209.99 L490.30 212.89 L488.00 215.79 L485.70 212.89Z" fill="#000"/>
<path d="M488.00 211.69 L490.30 214.59 L488.00 217.49 L485.70 214.59Z" fill="#000"/>
<path d="M488.00 212.39 L490.30 215.29 L488.00 218.19 L485.70 215.29Z" fill="#000"/>
<path d="M488.00 214.16 L490.30 217.06 L488.00 219.96 L485.70 217.06Z" fill="#000"/>
<path d="M488.00 215.59 L490.30 218.49 L488.00 221.39 L485.70 218.49Z" fill="#000"/>
<path d="M488.00 216.49 L490.30 219.39 L488.00 222.29 L485.70 219.39Z" fill="#000"/>
<path d="M488.00 218.15 L490.30 221.05 L488.00 223.95 L485.70 221.05Z" fill="#000"/>
<path d="M488.00 219.80 L490.30 222.70 L488.00 225.60 L485.70 222.70Z" fill="#000"/>
<path d="M488.00 220.96 L490.30 223.86 L488.00 226.76 L485.70 223.86Z" fill="#000"/>
<path d="M488.00 222.57 L490.30 225.47 L488.00 228.37 L485.70 225.47Z" fill="#000"/>
<path d="M488.00 224.92 L490.30 227.82 L488.00 230.72 L485.70 227.82Z" fill="#000"/>
<path d="M488.00 226.19 L490.30 229.09 L488.00 231.99 L485.70 229.09Z" fill="#000"/>
<path d="M488.00 227.90 L490.30 230.80 L488.00 233.70 L485.70 230.80Z" fill="#000"/>
<path d="M488.00 229.62 L490.30 232.52 L488.00 235.42 L485.70 232.52Z" fill="#000"/>
<path d="M488.00 230.72 L490.30 233.62 L488.00 236.52 L485.70 233.62Z" fill="#000"/>
<path d="M488.00 232.25 L490.30 235.15 L488.00 238.05 L485.70 235.15Z" fill="#000"/>
<path d="M488.00 233.30 L490.30 236.20 L488.00 239.10 L485.70 236.20Z" fill="#000"/>
<path d="M424.00 80.80 L426.10 83.30 L424.00 85.80 L421.90 83.30Z" fill="#fff" stroke="#000" stroke-width="1.1"/>
<path d="M424.00 86.20 L426.10 88.70 L424.00 91.20 L421.90 88.70Z" fill="#fff" stroke="#000" stroke-width="1.1"/>
<path d="M424.00 106.80 L426.10 109.30 L424.00 111.80 L421.90 109.30Z" fill="#fff" stroke="#000" stroke-width="1.1"/>
<path d="M424.00 118.70 L426.10 121.20 L424.00 123.70 L421.90 121.20Z" fill="#fff" stroke="#000" stroke-width="1.1"/>
<path d="M424.00 123.40 L426.10 125.90 L424.00 128.40 L421.90 125.90Z" fill="#fff" stroke="#000" stroke-width="1.1"/>
<path d="M424.00 126.50 L426.10 129.00 L424.00 131.50 L421.90 129.00Z" fill="#fff" stroke="#000" stroke-width="1.1"/>
<path d="M424.00 137.60 L426.10 140.10 L424.00 142.60 L421.90 140.10Z" fill="#fff" stroke="#000" stroke-width="1.1"/>
<path d="M424.00 138.00 L426.10 140.50 L424.00 143.00 L421.90 140.50Z" fill="#fff" stroke="#000" stroke-width="1.1"/>
<path d="M424.00 154.40 L426.10 156.90 L424.00 159.40 L421.90 156.90Z" fill="#fff" stroke="#000" stroke-width="1.1"/>
<path d="M424.00 156.40 L426.10 158.90 L424.00 161.40 L421.90 158.90Z" fill="#fff" stroke="#000" stroke-width="1.1"/>
<path d="M424.00 169.30 L426.10 171.80 L424.00 174.30 L421.90 171.80Z" fill="#fff" stroke="#000" stroke-width="1.1"/>
<path d="M424.00 171.90 L426.10 174.40 L424.00 176.90 L421.90 174.40Z" fill="#fff" stroke="#000" stroke-width="1.1"/>
<path d="M424.00 193.20 L426.10 195.70 L424.00 198.20 L421.90 195.70Z" fill="#fff" stroke="#000" stroke-width="1.1"/>
<path d="M424.00 199.64 L426.10 202.14 L424.00 204.64 L421.90 202.14Z" fill="#fff" stroke="#000" stroke-width="1.1"/>
<path d="M424.00 198.08 L426.10 200.58 L424.00 203.08 L421.90 200.58Z" fill="#fff" stroke="#000" stroke-width="1.1"/>
<path d="M424.00 194.82 L426.10 197.32 L424.00 199.82 L421.90 197.32Z" fill="#fff" stroke="#000" stroke-width="1.1"/>
<path d="M424.00 212.25 L426.10 214.75 L424.00 217.25 L421.90 214.75Z" fill="#fff" stroke="#000" stroke-width="1.1"/>
<path d="M424.00 201.16 L426.10 203.66 L424.00 206.16 L421.90 203.66Z" fill="#fff" stroke="#000" stroke-width="1.1"/>
<path d="M424.00 210.99 L426.10 213.49 L424.00 215.99 L421.90 213.49Z" fill="#fff" stroke="#000" stroke-width="1.1"/>
<path d="M424.00 208.76 L426.10 211.26 L424.00 213.76 L421.90 211.26Z" fill="#fff" stroke="#000" stroke-width="1.1"/>
<path d="M424.00 205.27 L426.10 207.77 L424.00 210.27 L421.90 207.77Z" fill="#fff" stroke="#000" stroke-width="1.1"/>
<path d="M424.00 203.68 L426.10 206.18 L424.00 208.68 L421.90 206.18Z" fill="#fff" stroke="#000" stroke-width="1.1"/>
<path d="M424.00 207.38 L426.10 209.88 L424.00 212.38 L421.90 209.88Z" fill="#fff" stroke="#000" stroke-width="1.1"/>
<path d="M424.00 196.65 L426.10 199.15 L424.00 201.65 L421.90 199.15Z" fill="#fff" stroke="#000" stroke-width="1.1"/>
<path d="M424.00 216.52 L426.10 219.02 L424.00 221.52 L421.90 219.02Z" fill="#fff" stroke="#000" stroke-width="1.1"/>
<path d="M424.00 215.22 L426.10 217.72 L424.00 220.22 L421.90 217.72Z" fill="#fff" stroke="#000" stroke-width="1.1"/>
<path d="M424.00 220.10 L426.10 222.60 L424.00 225.10 L421.90 222.60Z" fill="#fff" stroke="#000" stroke-width="1.1"/>
<path d="M424.00 223.14 L426.10 225.64 L424.00 228.14 L421.90 225.64Z" fill="#fff" stroke="#000" stroke-width="1.1"/>
<path d="M424.00 217.13 L426.10 219.63 L424.00 222.13 L421.90 219.63Z" fill="#fff" stroke="#000" stroke-width="1.1"/>
<path d="M424.00 221.32 L426.10 223.82 L424.00 226.32 L421.90 223.82Z" fill="#fff" stroke="#000" stroke-width="1.1"/>
<path d="M424.00 219.59 L426.10 222.09 L424.00 224.59 L421.90 222.09Z" fill="#fff" stroke="#000" stroke-width="1.1"/>
<path d="M424.00 232.76 L426.10 235.26 L424.00 237.76 L421.90 235.26Z" fill="#fff" stroke="#000" stroke-width="1.1"/>
<path d="M424.00 227.85 L426.10 230.35 L424.00 232.85 L421.90 230.35Z" fill="#fff" stroke="#000" stroke-width="1.1"/>
<path d="M424.00 214.73 L426.10 217.23 L424.00 219.73 L421.90 217.23Z" fill="#fff" stroke="#000" stroke-width="1.1"/>
<path d="M424.00 213.34 L426.10 215.84 L424.00 218.34 L421.90 215.84Z" fill="#fff" stroke="#000" stroke-width="1.1"/>
<path d="M424.00 218.19 L426.10 220.69 L424.00 223.19 L421.90 220.69Z" fill="#fff" stroke="#000" stroke-width="1.1"/>
<path d="M424.00 230.85 L426.10 233.35 L424.00 235.85 L421.90 233.35Z" fill="#fff" stroke="#000" stroke-width="1.1"/>
<path d="M424.00 228.69 L426.10 231.19 L424.00 233.69 L421.90 231.19Z" fill="#fff" stroke="#000" stroke-width="1.1"/>
<path d="M424.00 232.10 L426.10 234.60 L424.00 237.10 L421.90 234.60Z" fill="#fff" stroke="#000" stroke-width="1.1"/>
<path d="M424.00 233.58 L426.10 236.08 L424.00 238.58 L421.90 236.08Z" fill="#fff" stroke="#000" stroke-width="1.1"/>
<path d="M424.00 224.92 L426.10 227.42 L424.00 229.92 L421.90 227.42Z" fill="#fff" stroke="#000" stroke-width="1.1"/>
<path d="M424.00 226.26 L426.10 228.76 L424.00 231.26 L421.90 228.76Z" fill="#fff" stroke="#000" stroke-width="1.1"/>
<path d="M424.00 226.80 L426.10 229.30 L424.00 231.80 L421.90 229.30Z" fill="#fff" stroke="#000" stroke-width="1.1"/>
<path d="M424.00 224.13 L426.10 226.63 L424.00 229.13 L421.90 226.63Z" fill="#fff" stroke="#000" stroke-width="1.1"/>
<path d="M424.00 222.18 L426.10 224.68 L424.00 227.18 L421.90 224.68Z" fill="#fff" stroke="#000" stroke-width="1.1"/>
<path d="M424.00 229.80 L426.10 232.30 L424.00 234.80 L421.90 232.30Z" fill="#fff" stroke="#000" stroke-width="1.1"/>
<defs><pattern id="hp" patternUnits="userSpaceOnUse" x="207.9" y="0" width="3.28" height="10"><rect x="0" y="0" width="1.4" height="10" fill="#000"/></pattern><pattern id="hp2" patternUnits="userSpaceOnUse" x="345.0" y="0" width="3.36" height="10"><rect x="0" y="0" width="1.65" height="10" fill="#000"/></pattern></defs>
<g stroke="#000" fill="none">
<path d="M140.8 326.3 V505.2" stroke-width="2.2"/>
<path d="M137.4 326.9 H140.8" stroke-width="1.6"/>
<path d="M137.4 371.0 H140.8" stroke-width="1.6"/>
<path d="M137.4 415.7 H140.8" stroke-width="1.6"/>
<path d="M137.4 459.8 H140.8" stroke-width="1.6"/>
<rect x="169.8" y="335.6" width="38.8" height="168.7" fill="#fff" stroke-width="2"/>
<rect x="305.2" y="407.0" width="38.2" height="97.0" fill="#fff" stroke-width="2"/>
</g>
<rect x="207.6" y="340.8" width="39.9" height="164.4" fill="#000"/>
<rect x="209.30" y="342.8" width="1.85" height="160.6" fill="#fff"/>
<rect x="212.58" y="342.8" width="1.85" height="160.6" fill="#fff"/>
<rect x="215.86" y="342.8" width="1.85" height="160.6" fill="#fff"/>
<rect x="219.14" y="342.8" width="1.85" height="160.6" fill="#fff"/>
<rect x="222.42" y="342.8" width="1.85" height="160.6" fill="#fff"/>
<rect x="225.70" y="342.8" width="1.85" height="160.6" fill="#fff"/>
<rect x="228.98" y="342.8" width="1.85" height="160.6" fill="#fff"/>
<rect x="232.26" y="342.8" width="1.85" height="160.6" fill="#fff"/>
<rect x="235.54" y="342.8" width="1.85" height="160.6" fill="#fff"/>
<rect x="238.82" y="342.8" width="1.85" height="160.6" fill="#fff"/>
<rect x="242.10" y="342.8" width="1.85" height="160.6" fill="#fff"/>
<rect x="342.4" y="403.9" width="40.9" height="101.0" fill="#000"/>
<rect x="346.70" y="405.8" width="1.7" height="97.3" fill="#fff"/>
<rect x="350.06" y="405.8" width="1.7" height="97.3" fill="#fff"/>
<rect x="353.42" y="405.8" width="1.7" height="97.3" fill="#fff"/>
<rect x="356.78" y="405.8" width="1.7" height="97.3" fill="#fff"/>
<rect x="360.14" y="405.8" width="1.7" height="97.3" fill="#fff"/>
<rect x="363.50" y="405.8" width="1.7" height="97.3" fill="#fff"/>
<rect x="366.86" y="405.8" width="1.7" height="97.3" fill="#fff"/>
<rect x="370.22" y="405.8" width="1.7" height="97.3" fill="#fff"/>
<rect x="373.58" y="405.8" width="1.7" height="97.3" fill="#fff"/>
<rect x="376.94" y="405.8" width="1.7" height="97.3" fill="#fff"/>
<rect x="380.30" y="405.8" width="1.3" height="97.3" fill="#fff"/>
<g stroke="#000" fill="none">
<path d="M185.6 333.6 H193.0 M189.3 333.6 V335.5" stroke-width="1.3" stroke="#222"/>
<path d="M224.0 339.8 H231.4 M227.7 339.8 V341.6" stroke-width="1.3" stroke="#222"/>
<path d="M320.6 402.4 H328.0 M324.3 402.4 V407.0" stroke-width="1.3" stroke="#222"/>
<path d="M359.7 402.0 H367.1 M363.4 402.0 V404.6" stroke-width="1.3" stroke="#222"/>
<path d="M137.4 504.5 L411 499.8" stroke-width="2.0"/>
<rect x="323.4" y="329.9" width="80.3" height="46.7" stroke-width="1.5" fill="#fff"/>
<rect x="328.4" y="338.2" width="14.5" height="13.3" stroke-width="1.8" fill="#fff"/>
<rect x="327.75" y="356.75" width="16.15" height="14.95" fill="#000" stroke="none"/>
<rect x="330.1" y="358.5" width="1.75" height="11.6" fill="#fff" stroke="none"/>
<rect x="333.5" y="358.5" width="1.75" height="11.6" fill="#fff" stroke="none"/>
<rect x="336.9" y="358.5" width="1.75" height="11.6" fill="#fff" stroke="none"/>
<rect x="340.3" y="358.5" width="1.75" height="11.6" fill="#fff" stroke="none"/>
</g>
<text x="56.28" y="257.67" font-size="12.68" font-weight="bold" textLength="33.37" lengthAdjust="spacingAndGlyphs">CD38</text>
<text x="90.06" y="253.38" font-size="7.73" font-weight="bold" textLength="16.37" lengthAdjust="spacingAndGlyphs">neg</text>
<text x="122.27" y="257.67" font-size="13.24" font-weight="bold" textLength="33.99" lengthAdjust="spacingAndGlyphs">CD38</text>
<text x="156.69" y="253.18" font-size="7.73" font-weight="bold" textLength="15.54" lengthAdjust="spacingAndGlyphs">pos</text>
<text x="226.47" y="257.47" font-size="12.96" font-weight="bold" textLength="33.78" lengthAdjust="spacingAndGlyphs">CD38</text>
<text x="260.56" y="253.48" font-size="7.73" font-weight="bold" textLength="16.37" lengthAdjust="spacingAndGlyphs">neg</text>
<text x="290.07" y="257.67" font-size="13.24" font-weight="bold" textLength="33.88" lengthAdjust="spacingAndGlyphs">CD38</text>
<text x="324.38" y="253.28" font-size="7.73" font-weight="bold" textLength="15.76" lengthAdjust="spacingAndGlyphs">pos</text>
<text x="396.47" y="256.77" font-size="12.54" font-weight="bold" textLength="33.78" lengthAdjust="spacingAndGlyphs">CD38</text>
<text x="430.56" y="253.08" font-size="7.73" font-weight="bold" textLength="16.37" lengthAdjust="spacingAndGlyphs">neg</text>
<text x="462.07" y="257.07" font-size="12.96" font-weight="bold" textLength="33.88" lengthAdjust="spacingAndGlyphs">CD38</text>
<text x="496.59" y="252.98" font-size="7.73" font-weight="bold" textLength="15.54" lengthAdjust="spacingAndGlyphs">pos</text>
<text x="347.69" y="348.59" font-size="10.99" font-weight="bold" textLength="32.34" lengthAdjust="spacingAndGlyphs">CD38</text>
<text x="381.36" y="345.29" font-size="7.20" font-weight="bold" textLength="16.26" lengthAdjust="spacingAndGlyphs">neg</text>
<text x="347.69" y="368.89" font-size="11.41" font-weight="bold" textLength="32.34" lengthAdjust="spacingAndGlyphs">CD38</text>
<text x="381.37" y="365.19" font-size="7.20" font-weight="bold" textLength="15.97" lengthAdjust="spacingAndGlyphs">pos</text>
<text x="180.86" y="526.18" font-size="11.89" font-weight="bold" textLength="52.55" lengthAdjust="spacingAndGlyphs">% Bcl-2</text>
<text x="233.29" y="522.25" font-size="6.86" font-weight="bold" textLength="4.56" lengthAdjust="spacingAndGlyphs">+</text>
<text x="309.17" y="526.18" font-size="11.89" font-weight="bold" textLength="70.39" lengthAdjust="spacingAndGlyphs">MFI: Bcl-2</text>
</svg></body></html>
